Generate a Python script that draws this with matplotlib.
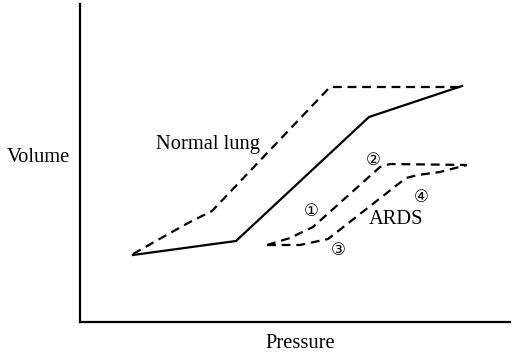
import matplotlib
matplotlib.use("Agg")
import matplotlib.pyplot as plt

# Data (arbitrary pressure / volume units, y measured up from the pressure axis)
normal_solid_x = [133, 236, 369, 462]
normal_solid_y = [67, 81, 205, 236]

normal_dash_x = [133, 163, 190, 212, 330, 462]
normal_dash_y = [68, 85, 100, 111, 235, 235]

ards12_x = [267, 290, 313, 380, 390, 467]
ards12_y = [77, 84, 95, 155, 158, 157]

ards34_x = [267, 300, 328, 406, 418, 440, 467]
ards34_y = [77, 77, 83, 144, 147, 150, 157]

plt.rcParams['font.family'] = ['Liberation Serif', 'DejaVu Sans']

fig = plt.figure(figsize=(5.21, 3.62), dpi=100)
ax = fig.add_axes([80/521, 40/362, 430/521, 318/362])
ax.set_xlim(80, 510)
ax.set_ylim(0, 318)

dash = (0, (4, 2.6))
ax.plot(normal_solid_x, normal_solid_y, color='black', lw=1.6, solid_joinstyle='miter')
ax.plot(normal_dash_x, normal_dash_y, color='black', lw=1.6, linestyle=dash)
ax.plot(ards12_x, ards12_y, color='black', lw=1.6, linestyle=dash)
ax.plot(ards34_x, ards34_y, color='black', lw=1.6, linestyle=dash)

for s in ['top', 'right']:
    ax.spines[s].set_visible(False)
for s in ['left', 'bottom']:
    ax.spines[s].set_linewidth(1.6)
ax.set_xticks([])
ax.set_yticks([])

fs = 14.8
ax.text(208, 177, 'Normal lung', fontsize=fs, ha='center', va='center')
ax.text(396, 103, 'ARDS', fontsize=fs, ha='center', va='center')
cfam = ['DejaVu Sans']
ax.text(311, 111, '\u2460', fontsize=12, ha='center', va='center', family=cfam)
ax.text(373, 162, '\u2461', fontsize=12, ha='center', va='center', family=cfam)
ax.text(338, 72, '\u2462', fontsize=12, ha='center', va='center', family=cfam)
ax.text(421, 125, '\u2463', fontsize=12, ha='center', va='center', family=cfam)

fig.text(38/521, 1 - 158/362, 'Volume', fontsize=fs, ha='center', va='center')
fig.text(300/521, 1 - 343/362, 'Pressure', fontsize=fs, ha='center', va='center')

fig.savefig('out.png', dpi=100)
